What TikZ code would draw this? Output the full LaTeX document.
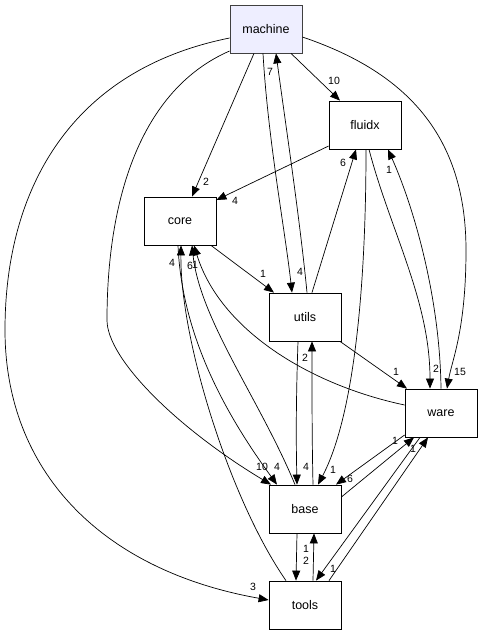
\documentclass[tikz,border=0pt]{standalone}
\usepackage{fontspec}
\setmainfont{Liberation Sans}
\usepackage{xcolor}
\usetikzlibrary{arrows.meta}
\definecolor{dirfill}{HTML}{EEEEFF}
\definecolor{dirline}{HTML}{404040}

\begin{document}
\begin{tikzpicture}[x=1pt,y=-1pt,
  dirbox/.style={draw=black, line width=0.8pt, minimum width=72pt, minimum height=48pt, inner sep=0pt, font=\fontsize{12.5}{15}\selectfont},
  topbox/.style={dirbox, fill=dirfill, draw=dirline},
  dep/.style={line width=0.7pt, -{Triangle[length=10pt,width=8pt]}},
  num/.style={inner sep=0pt, font=\fontsize{10.5}{12}\selectfont}]
\useasboundingbox (0,0) rectangle (483,635);

\node [topbox] (machine) at (266,29) {machine};
\node [dirbox] (fluidx) at (365,125) {fluidx};
\node [dirbox] (core) at (180,221) {core};
\node [dirbox] (utils) at (305,317) {utils};
\node [dirbox] (ware) at (441,413) {ware};
\node [dirbox] (base) at (305,509) {base};
\node [dirbox] (tools) at (305,605) {tools};

% from machine
\draw [dep] ([xshift=-12]machine.south) -- ([xshift=12]core.north);
\draw [dep] ([xshift=25]machine.south) -- ([xshift=-25]fluidx.north);
\draw [dep] ([xshift=-3]machine.south) .. controls (268,140) and (285,230) .. ([xshift=-13]utils.north);
\draw [dep] ([yshift=-8]machine.east) .. controls (400,70) and (466,130) .. (466,250) .. controls (466,330) and (452,360) .. ([xshift=6]ware.north);
\draw [dep] ([yshift=-22]machine.west) .. controls (140,90) and (107,200) .. (107,320) .. controls (107,360) and (180,430) .. ([xshift=-34]base.north);
\draw [dep] ([yshift=-9]machine.west) .. controls (70,70) and (5,190) .. (5,330) .. controls (5,470) and (100,570) .. ([yshift=5]tools.west);

% from fluidx
\draw [dep] ([yshift=-21]fluidx.west) -- ([yshift=21]core.east);
\draw [dep] ([xshift=1]fluidx.south) .. controls (366,300) and (352,420) .. ([xshift=13]base.north);
\draw [dep] ([xshift=4]fluidx.south) .. controls (390,230) and (430,300) .. ([xshift=-11]ware.north);

% from core
\draw [dep] ([xshift=31]core.south) -- ([xshift=-31]utils.north);
\draw [dep] ([xshift=-2]core.south) .. controls (182,340) and (230,420) .. ([xshift=-28]base.north);

% from utils
\draw [dep] ([xshift=2]utils.north) .. controls (300,220) and (285,120) .. ([xshift=10]machine.south);
\draw [dep] ([xshift=7]utils.north) -- ([xshift=-9]fluidx.south);
\draw [dep] ([xshift=35]utils.south) -- ([xshift=-34]ware.north);
\draw [dep] ([xshift=-7]utils.south) .. controls (296,400) and (296,440) .. ([xshift=-8]base.north);

% from ware
\draw [dep] (ware.north) .. controls (440,300) and (415,210) .. ([xshift=23]fluidx.south);
\draw [dep] ([yshift=8]ware.west) .. controls (310,385) and (220,330) .. ([xshift=14]core.south);
\draw [dep] ([yshift=-22]ware.west) -- ([xshift=31]base.north);
\draw [dep] ([xshift=-21]ware.south) -- ([xshift=11]tools.north);

% from base
\draw [dep] ([xshift=8]base.north) .. controls (312,440) and (312,400) .. ([xshift=7]utils.south);
\draw [dep] ([xshift=-10]base.north) .. controls (260,400) and (200,320) .. ([xshift=12]core.south);
\draw [dep] ([yshift=12]base.east) -- ([xshift=-27]ware.south);
\draw [dep] ([xshift=-8]base.south) -- ([xshift=-9]tools.north);

% from tools
\draw [dep] ([xshift=-19]tools.north) .. controls (230,500) and (180,340) .. ([xshift=1]core.south);
\draw [dep] ([xshift=8]tools.north) -- ([xshift=9]base.south);
\draw [dep] ([xshift=24]tools.north) -- ([xshift=-13]ware.south);

% counts
\node [num] (n1) at (206,182) {2};
\node [num] (n2) at (334,81) {10};
\node [num] (n3) at (300,272) {4};
\node [num] (n4) at (460,372) {15};
\node [num] (n5) at (262,467) {10};
\node [num] (n6) at (253,587) {3};
\node [num] (n7) at (235,201) {4};
\node [num] (n8) at (333,470) {1};
\node [num] (n9) at (436,369) {2};
\node [num] (n10) at (263,274) {1};
\node [num] (n11) at (277,467) {4};
\node [num] (n12) at (270,72) {7};
\node [num] (n13) at (343,163) {6};
\node [num] (n14) at (396,372) {1};
\node [num] (n15) at (306,467) {4};
\node [num] (n16) at (389,170) {1};
\node [num] (n17) at (195,265) {1};
\node [num] (n18) at (350,479) {6};
\node [num] (n19) at (333,569) {1};
\node [num] (n20) at (305,358) {2};
\node [num] (n21) at (190,266) {6};
\node [num] (n22) at (395,441) {1};
\node [num] (n23) at (306,561) {2};
\node [num] (n24) at (172,263) {4};
\node [num] (n25) at (306,549) {1};
\node [num] (n26) at (413,449) {1};
\end{tikzpicture}
\end{document}
